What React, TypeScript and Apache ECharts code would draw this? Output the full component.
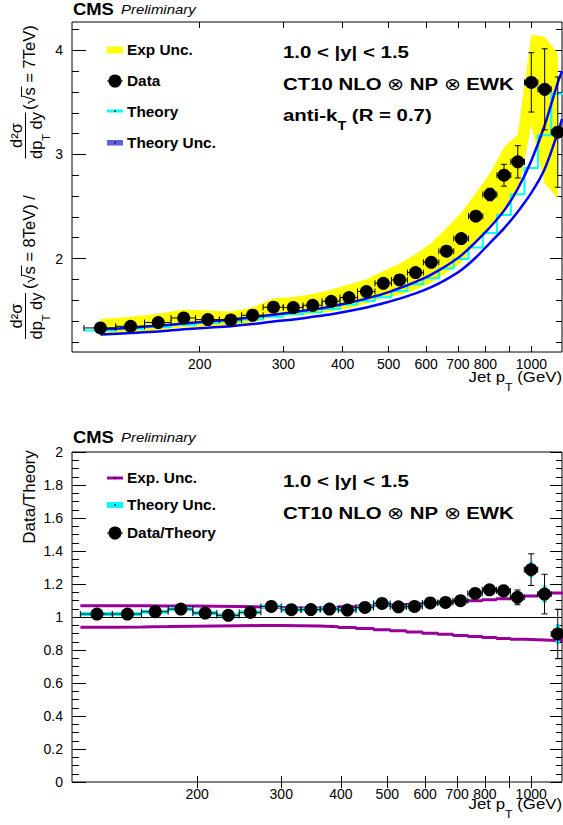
import React, { useEffect, useRef } from "react";
import * as echarts from "echarts";

// ---------- data ----------
const binEdges = [114, 133, 153, 174, 196, 220, 245, 272, 300, 330, 362, 395, 430, 468, 507, 548, 592, 638, 686, 737, 790, 846, 905, 967, 1032, 1101, 1172];

// top pad: ratio of cross sections 8 TeV / 7 TeV
const dataRatio = [1.333, 1.349, 1.385, 1.429, 1.413, 1.41, 1.455, 1.532, 1.529, 1.551, 1.589, 1.625, 1.683, 1.762, 1.794, 1.865, 1.964, 2.07, 2.192, 2.407, 2.615, 2.8, 2.929, 3.692, 3.625, 3.214];
const dataRatioErr = [0.006, 0.006, 0.006, 0.006, 0.006, 0.007, 0.007, 0.008, 0.008, 0.009, 0.01, 0.011, 0.012, 0.014, 0.016, 0.018, 0.021, 0.025, 0.03, 0.04, 0.06, 0.105, 0.155, 0.285, 0.39, 0.53];
const expBandHigh = [1.42, 1.44, 1.47, 1.51, 1.5, 1.49, 1.53, 1.615, 1.63, 1.66, 1.7, 1.75, 1.8, 1.88, 1.95, 2.04, 2.15, 2.29, 2.44, 2.63, 2.82, 3.07, 3.19, 4.15, 4.13, 3.97];
const expBandLow = [1.25, 1.28, 1.31, 1.34, 1.345, 1.355, 1.385, 1.44, 1.45, 1.465, 1.49, 1.52, 1.565, 1.625, 1.65, 1.7, 1.77, 1.86, 1.96, 2.15, 2.3, 2.44, 2.62, 3.28, 2.72, 2.58];
const theoryNominal = [1.309, 1.325, 1.342, 1.364, 1.38, 1.396, 1.415, 1.44, 1.465, 1.484, 1.516, 1.559, 1.591, 1.628, 1.689, 1.753, 1.81, 1.903, 1.995, 2.106, 2.245, 2.418, 2.618, 2.869, 3.183, 3.583];
// theory uncertainty curves: values at the bin centres, then at the right end of the axis
const theoryUncHigh = [1.32, 1.335, 1.355, 1.375, 1.395, 1.415, 1.435, 1.46, 1.485, 1.51, 1.54, 1.575, 1.615, 1.66, 1.715, 1.775, 1.845, 1.93, 2.03, 2.16, 2.3, 2.46, 2.67, 2.94, 3.28, 3.69, 3.8];
const theoryUncLow = [1.27, 1.285, 1.3, 1.32, 1.335, 1.35, 1.37, 1.395, 1.415, 1.44, 1.465, 1.495, 1.53, 1.57, 1.615, 1.665, 1.725, 1.8, 1.89, 2.01, 2.15, 2.29, 2.45, 2.63, 2.86, 3.21, 3.34];

// bottom pad: data / theory
const dataOverTheory = [1.018, 1.018, 1.032, 1.048, 1.024, 1.01, 1.028, 1.064, 1.044, 1.045, 1.048, 1.042, 1.058, 1.082, 1.062, 1.064, 1.085, 1.088, 1.099, 1.143, 1.165, 1.158, 1.119, 1.287, 1.139, 0.897];
const dataOverTheoryErr = [0.005, 0.005, 0.005, 0.005, 0.005, 0.005, 0.005, 0.005, 0.005, 0.005, 0.006, 0.006, 0.007, 0.008, 0.009, 0.01, 0.012, 0.014, 0.016, 0.02, 0.024, 0.035, 0.045, 0.096, 0.12, 0.15];
const theoryUncRatio = [0.012, 0.012, 0.012, 0.013, 0.013, 0.014, 0.015, 0.015, 0.016, 0.017, 0.018, 0.019, 0.02, 0.021, 0.022, 0.024, 0.026, 0.028, 0.03, 0.032, 0.035, 0.038, 0.042, 0.047, 0.053, 0.06];
const expUncRatioHigh = [1.068, 1.068, 1.067, 1.066, 1.065, 1.063, 1.061, 1.058, 1.055, 1.054, 1.057, 1.062, 1.067, 1.072, 1.076, 1.08, 1.084, 1.089, 1.094, 1.099, 1.105, 1.111, 1.118, 1.127, 1.136, 1.146];
const expUncRatioLow = [0.938, 0.94, 0.942, 0.944, 0.946, 0.947, 0.948, 0.948, 0.947, 0.945, 0.941, 0.936, 0.93, 0.923, 0.916, 0.909, 0.902, 0.895, 0.888, 0.882, 0.876, 0.87, 0.865, 0.862, 0.859, 0.856];

// axis ticks and labels
const xTickValues = [200, 300, 400, 500, 600, 700, 800, 900, 1000];
const xLabelValues = [200, 300, 400, 500, 600, 700, 800, 1000];
const yTopLabels = [2, 3, 4];
const yBotLabels = [0, 0.2, 0.4, 0.6, 0.8, 1, 1.2, 1.4, 1.6, 1.8, 2];

// axis ranges
const X_MIN_TOP = 107.6;
const X_MIN_BOT = 109.5;
const X_MAX = 1160;
const Y_TOP_MIN = 1.102;
const Y_TOP_MAX = 4.272;

// ---------- derived ----------
const lg = (v: number) => Math.log10(v);
const binCenters = binEdges.slice(0, -1).map((e, i) => (e + binEdges[i + 1]) / 2);
const theoryCurveX = [...binCenters, X_MAX];
const yTopMinor = Array.from({ length: 16 }, (_, i) => +(1.2 + 0.2 * i).toFixed(2));
const yBotMinor = Array.from({ length: 41 }, (_, i) => +(0.05 * i).toFixed(2));

const FONT = "'Liberation Sans', Arial, Helvetica, sans-serif";
const BLACK = "#000";
const YELLOW = "#ffff00";
const CYAN = "#00ffff";
const BLUE = "#0000ff";
const PURPLE = "#990099";
const SLATE = "#5f5fdc";

const steps = (vals: number[]) => {
  const out: number[][] = [];
  vals.forEach((v, i) => {
    out.push([lg(binEdges[i]), v]);
    out.push([lg(binEdges[i + 1]), v]);
  });
  return out;
};

const errData = (ys: number[], errs: number[]) =>
  binCenters.map((c, i) => [lg(c), ys[i], errs[i], lg(binEdges[i]), lg(binEdges[i + 1])]);

function errorBars(color: string, width: number, cap: number) {
  return (params: any, api: any) => {
    const xc = api.value(0), y = api.value(1), e = api.value(2), xl = api.value(3), xh = api.value(4);
    const cs = params.coordSys;
    const clampX = (v: number) => Math.max(cs.x, Math.min(cs.x + cs.width, v));
    const c = api.coord([xc, y]);
    const top = api.coord([xc, y + e]);
    const bot = api.coord([xc, y - e]);
    const l = api.coord([xl, y]);
    const r = api.coord([xh, y]);
    const st = { stroke: color, lineWidth: width };
    const ch: any[] = [
      { type: "line", shape: { x1: clampX(l[0]), y1: c[1], x2: clampX(r[0]), y2: c[1] }, style: st },
      { type: "line", shape: { x1: c[0], y1: top[1], x2: c[0], y2: bot[1] }, style: st },
    ];
    if (cap > 0) {
      ch.push({ type: "line", shape: { x1: c[0] - cap, y1: top[1], x2: c[0] + cap, y2: top[1] }, style: st });
      ch.push({ type: "line", shape: { x1: c[0] - cap, y1: bot[1], x2: c[0] + cap, y2: bot[1] }, style: st });
      if (l[0] >= cs.x) ch.push({ type: "line", shape: { x1: l[0], y1: c[1] - cap, x2: l[0], y2: c[1] + cap }, style: st });
      if (r[0] <= cs.x + cs.width) ch.push({ type: "line", shape: { x1: r[0], y1: c[1] - cap, x2: r[0], y2: c[1] + cap }, style: st });
    }
    return { type: "group", children: ch };
  };
}

function xAxes(gridIndex: number, min: number) {
  const tick = { show: true, inside: true, length: 6, customValues: xTickValues.map(lg), lineStyle: { color: BLACK, width: 1 } };
  const base = { type: "value", gridIndex, min: lg(min), max: lg(X_MAX), splitLine: { show: false }, axisLine: { show: false } };
  return [
    {
      ...base,
      position: "bottom",
      axisTick: tick,
      axisLabel: {
        show: true,
        customValues: xLabelValues.map(lg),
        formatter: (v: number) => String(Math.round(Math.pow(10, v))),
        color: BLACK,
        fontSize: 14,
        fontFamily: FONT,
        margin: 5,
      },
    },
    { ...base, position: "top", axisTick: tick, axisLabel: { show: false } },
  ];
}

function yAxes(gridIndex: number, min: number, max: number, major: number[], minor: number[], fmt: (v: number) => string) {
  const base = { type: "value", gridIndex, min, max, splitLine: { show: false }, axisLine: { show: false } };
  const ls = { color: BLACK, width: 1 };
  return [
    {
      ...base,
      position: "left",
      axisTick: { show: true, inside: true, length: 14, customValues: major, lineStyle: ls },
      axisLabel: { show: true, customValues: major, formatter: fmt, color: BLACK, fontSize: 14, fontFamily: FONT, margin: 9 },
    },
    { ...base, position: "left", axisTick: { show: true, inside: true, length: 7, customValues: minor, lineStyle: ls }, axisLabel: { show: false } },
    { ...base, position: "right", axisTick: { show: true, inside: true, length: 12, customValues: major, lineStyle: ls }, axisLabel: { show: false } },
    { ...base, position: "right", axisTick: { show: true, inside: true, length: 6, customValues: minor, lineStyle: ls }, axisLabel: { show: false } },
  ];
}

type TOpts = { bold?: boolean; italic?: boolean; scaleX?: number; align?: string; rotation?: number; rich?: any };
function txt(x: number, y: number, text: string, size: number, o: TOpts = {}) {
  return {
    type: "text",
    x,
    y,
    scaleX: o.scaleX ?? 1,
    rotation: o.rotation ?? 0,
    style: {
      text,
      fontSize: size,
      fontFamily: FONT,
      fontWeight: o.bold ? "bold" : "normal",
      fontStyle: o.italic ? "italic" : "normal",
      fill: BLACK,
      align: o.align ?? "left",
      verticalAlign: "middle",
      rich: o.rich,
    },
  };
}

// rich styles for subscripted text: main tokens at top, subscript lower
const subRich = (size: number, subSize: number, bold: boolean) => ({
  a: { fontSize: size, fontFamily: FONT, fontWeight: bold ? "bold" : "normal", lineHeight: size, verticalAlign: "top", fill: BLACK },
  s: { fontSize: subSize, fontFamily: FONT, fontWeight: bold ? "bold" : "normal", lineHeight: 2 * size + 4, verticalAlign: "middle", fill: BLACK },
  o: { fontSize: size, fontFamily: FONT, fontWeight: "normal", lineHeight: size, verticalAlign: "top", fill: BLACK },
});

function yTitleTop() {
  const fs = 16.5;
  const mid = 29;
  const frac = (c: number) => [
    { type: "text", x: c, y: 15.5, style: { text: "d²σ", fontSize: fs, fontFamily: FONT, fill: BLACK, align: "center", verticalAlign: "middle" } },
    { type: "line", shape: { x1: c - 23, y1: 25.5, x2: c + 23, y2: 25.5 }, style: { stroke: BLACK, lineWidth: 1 } },
    {
      type: "text",
      x: c,
      y: 36 + 10,
      style: { text: "{a|dp}{s|T}{a| dy}", rich: subRich(fs, 11, false), align: "center", verticalAlign: "middle" },
    },
  ];
  const sqrtBar = (start: number) => ({
    type: "line",
    shape: { x1: start + 13, y1: 21.5, x2: start + 23.5, y2: 21.5 },
    style: { stroke: BLACK, lineWidth: 1 },
  });
  return {
    type: "group",
    x: 0,
    y: 345,
    rotation: Math.PI / 2,
    children: [
      ...frac(29),
      { type: "text", x: 56, y: mid, style: { text: "(√s = 8TeV) /", fontSize: fs, fontFamily: FONT, fill: BLACK, align: "left", verticalAlign: "middle" } },
      sqrtBar(56),
      ...frac(209.5),
      { type: "text", x: 235, y: mid, style: { text: "(√s = 7TeV)", fontSize: fs, fontFamily: FONT, fill: BLACK, align: "left", verticalAlign: "middle" } },
      sqrtBar(235),
    ],
  };
}

function buildOption() {
  const rTop = subRich(17, 12, true);
  const rLeg = subRich(15, 11, false);
  const graphics: any[] = [
    // headers
    txt(73, 9, "CMS", 16, { bold: true, scaleX: 1.15 }),
    txt(121, 9, "Preliminary", 13, { italic: true, scaleX: 1.15 }),
    txt(73, 437, "CMS", 16, { bold: true, scaleX: 1.15 }),
    txt(121, 437, "Preliminary", 13, { italic: true, scaleX: 1.15 }),
    // top legend
    { type: "rect", shape: { x: 107, y: 46.5, width: 16, height: 7 }, style: { fill: YELLOW } },
    txt(127, 50, "Exp Unc.", 14, { bold: true, scaleX: 1.1 }),
    { type: "line", shape: { x1: 107, y1: 81, x2: 123, y2: 81 }, style: { stroke: BLACK, lineWidth: 1 } },
    { type: "circle", shape: { cx: 115, cy: 81, r: 6.5 }, style: { fill: BLACK } },
    txt(127, 81, "Data", 14, { bold: true, scaleX: 1.1 }),
    { type: "line", shape: { x1: 107, y1: 111, x2: 123, y2: 111 }, style: { stroke: CYAN, lineWidth: 3 } },
    { type: "circle", shape: { cx: 115, cy: 111, r: 0.8 }, style: { fill: BLACK } },
    txt(127, 112, "Theory", 14, { bold: true, scaleX: 1.1 }),
    { type: "rect", shape: { x: 107, y: 140, width: 16, height: 5.5 }, style: { fill: SLATE } },
    { type: "circle", shape: { cx: 115, cy: 142.7, r: 0.8 }, style: { fill: BLACK } },
    txt(127, 143, "Theory Unc.", 14, { bold: true, scaleX: 1.1 }),
    // top labels
    txt(283, 52, "1.0 < |y| < 1.5", 17, { bold: true, scaleX: 1.2 }),
    txt(283, 84, "{a|CT10 NLO }{o|⊗}{a| NP }{o|⊗}{a| EWK}", 17, { scaleX: 1.2, rich: rTop }),
    txt(283, 115 + 10.5, "{a|anti-k}{s|T}{a| (R = 0.7)}", 17, { scaleX: 1.2, rich: rTop }),
    // bottom legend
    { type: "line", shape: { x1: 107, y1: 478, x2: 123, y2: 478 }, style: { stroke: PURPLE, lineWidth: 3 } },
    { type: "circle", shape: { cx: 115, cy: 478, r: 0.8 }, style: { fill: BLACK } },
    txt(127, 478, "Exp. Unc.", 14, { bold: true, scaleX: 1.1 }),
    { type: "line", shape: { x1: 107, y1: 505, x2: 123, y2: 505 }, style: { stroke: CYAN, lineWidth: 6 } },
    { type: "circle", shape: { cx: 115, cy: 505, r: 0.8 }, style: { fill: BLACK } },
    txt(127, 505, "Theory Unc.", 14, { bold: true, scaleX: 1.1 }),
    { type: "line", shape: { x1: 107, y1: 533, x2: 123, y2: 533 }, style: { stroke: BLACK, lineWidth: 1 } },
    { type: "circle", shape: { cx: 115, cy: 533, r: 6.5 }, style: { fill: BLACK } },
    txt(127, 533, "Data/Theory", 14, { bold: true, scaleX: 1.1 }),
    // bottom labels
    txt(283, 481, "1.0 < |y| < 1.5", 17, { bold: true, scaleX: 1.2 }),
    txt(283, 513, "{a|CT10 NLO }{o|⊗}{a| NP }{o|⊗}{a| EWK}", 17, { scaleX: 1.2, rich: rTop }),
    // axis titles
    txt(562, 377 + 9.5, "{a|Jet p}{s|T}{a| (GeV)}", 15, { align: "right", scaleX: 1.12, rich: rLeg }),
    txt(562, 804 + 9.5, "{a|Jet p}{s|T}{a| (GeV)}", 15, { align: "right", scaleX: 1.12, rich: rLeg }),
    txt(29, 497, "Data/Theory", 17, { align: "center", rotation: Math.PI / 2 }),
    yTitleTop(),
  ];

  const bandRender = (params: any, api: any) => {
    if (params.dataIndex !== 0) return null;
    const up = binCenters.map((c, i) => api.coord([lg(c), expBandHigh[i]]));
    const lo = binCenters.map((c, i) => api.coord([lg(c), expBandLow[i]])).reverse();
    return { type: "polygon", shape: { points: [...up, ...lo] }, style: { fill: YELLOW } };
  };

  const marker = { color: BLACK, opacity: 1, borderWidth: 0 };

  const series: any[] = [
    // ---- top pad ----
    {
      type: "custom",
      xAxisIndex: 0,
      yAxisIndex: 0,
      data: [[lg(binCenters[0]), expBandLow[0]]],
      renderItem: bandRender,
      z: 1,
      silent: true,
    },
    {
      type: "line",
      xAxisIndex: 0,
      yAxisIndex: 0,
      data: steps(theoryNominal),
      showSymbol: false,
      symbol: "none",
      lineStyle: { color: CYAN, width: 2 },
      z: 2,
      silent: true,
    },
    ...[theoryUncHigh, theoryUncLow].map((arr) => ({
      type: "line",
      xAxisIndex: 0,
      yAxisIndex: 0,
      data: theoryCurveX.map((x, i) => [lg(x), arr[i]]),
      smooth: 0.3,
      symbol: "none",
      lineStyle: { color: BLUE, width: 2.5 },
      z: 3,
      silent: true,
    })),
    {
      type: "custom",
      xAxisIndex: 0,
      yAxisIndex: 0,
      data: errData(dataRatio, dataRatioErr),
      renderItem: errorBars(BLACK, 1, 3),
      z: 4,
      silent: true,
    },
    {
      type: "scatter",
      xAxisIndex: 0,
      yAxisIndex: 0,
      data: binCenters.map((c, i) => [lg(c), dataRatio[i]]),
      symbol: "circle",
      symbolSize: 13,
      itemStyle: marker,
      z: 5,
      silent: true,
    },
    // ---- bottom pad ----
    {
      type: "line",
      xAxisIndex: 2,
      yAxisIndex: 4,
      data: steps(expUncRatioHigh),
      symbol: "none",
      lineStyle: { color: PURPLE, width: 3 },
      z: 2,
      silent: true,
      markLine: {
        silent: true,
        symbol: ["none", "none"],
        label: { show: false },
        lineStyle: { color: BLACK, width: 1, type: "solid" },
        data: [{ yAxis: 1 }],
      },
    },
    {
      type: "line",
      xAxisIndex: 2,
      yAxisIndex: 4,
      data: steps(expUncRatioLow),
      symbol: "none",
      lineStyle: { color: PURPLE, width: 3 },
      z: 2,
      silent: true,
    },
    {
      type: "custom",
      xAxisIndex: 2,
      yAxisIndex: 4,
      data: errData(dataOverTheory, theoryUncRatio),
      renderItem: errorBars(CYAN, 4, 0),
      z: 3,
      silent: true,
    },
    {
      type: "custom",
      xAxisIndex: 2,
      yAxisIndex: 4,
      data: errData(dataOverTheory, dataOverTheoryErr),
      renderItem: errorBars(BLACK, 1, 3),
      z: 4,
      silent: true,
    },
    {
      type: "scatter",
      xAxisIndex: 2,
      yAxisIndex: 4,
      data: binCenters.map((c, i) => [lg(c), dataOverTheory[i]]),
      symbol: "circle",
      symbolSize: 13,
      itemStyle: marker,
      z: 5,
      silent: true,
    },
  ];

  return {
    animation: false,
    backgroundColor: "#fff",
    grid: [
      { left: 72, top: 22, width: 490, height: 330, show: true, borderColor: BLACK, borderWidth: 1, backgroundColor: "transparent", containLabel: false, outerBoundsMode: "none" },
      { left: 72, top: 452, width: 490, height: 330, show: true, borderColor: BLACK, borderWidth: 1, backgroundColor: "transparent", containLabel: false, outerBoundsMode: "none" },
    ],
    xAxis: [...xAxes(0, X_MIN_TOP), ...xAxes(1, X_MIN_BOT)],
    yAxis: [
      ...yAxes(0, Y_TOP_MIN, Y_TOP_MAX, yTopLabels, yTopMinor, (v: number) => String(v)),
      ...yAxes(1, 0, 2, yBotLabels, yBotMinor, (v: number) => String(Math.round(v * 10) / 10)),
    ],
    series,
    graphic: { elements: graphics },
  };
}

export default function App() {
  const ref = useRef<HTMLDivElement>(null);
  useEffect(() => {
    if (!ref.current) return;
    const chart = echarts.init(ref.current, null, { renderer: "svg" });
    chart.setOption(buildOption() as any);
    return () => chart.dispose();
  }, []);
  return (
    <div
      ref={ref}
      style={{ position: "absolute", left: 0, top: 0, width: 563, height: 825, background: "#fff" }}
    />
  );
}
